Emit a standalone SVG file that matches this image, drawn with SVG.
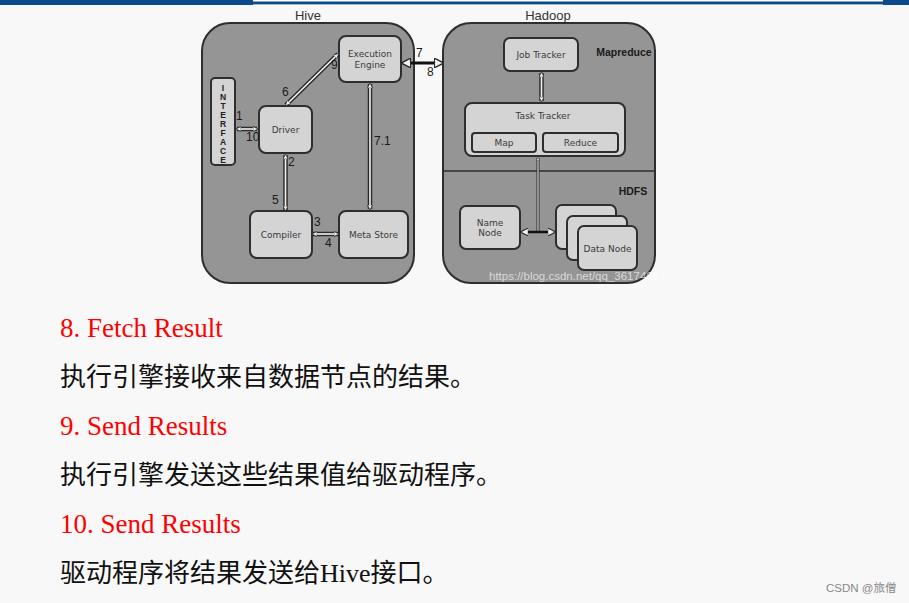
<svg xmlns="http://www.w3.org/2000/svg" width="909" height="603" viewBox="0 0 909 603">
<defs>
<style>
.cont{fill:#959595;stroke:#2e2e2e;stroke-width:2}
.node{fill:#d4d4d4;stroke:#2e2e2e;stroke-width:2}
.lbl{font-family:"DejaVu Sans",Verdana,sans-serif;font-size:9px;fill:#3a3a3a;text-anchor:middle}
.num{font-family:"Liberation Sans",Arial,sans-serif;font-size:12px;fill:#1a1a1a}
.title{font-family:"Liberation Sans",Arial,sans-serif;font-size:13px;fill:#333;text-anchor:middle}
.bold{font-family:"Liberation Sans",Arial,sans-serif;font-size:10.5px;font-weight:bold;fill:#1a1a1a;text-anchor:middle}
.outer{fill:none;stroke:#2a2a2a;stroke-width:4.5}
.inner{fill:none;stroke:#f4f4f4;stroke-width:1.6}
.red{font-family:"Liberation Serif","Times New Roman",serif;font-size:27px;fill:#ff0000}
.cn{font-family:"Liberation Serif","Noto Sans CJK SC",serif;font-size:26px;fill:#111}
</style>
<marker id="ah" viewBox="0 0 10 10" refX="8" refY="5" markerWidth="3.2" markerHeight="3.2" orient="auto-start-reverse">
<path d="M0,0 L10,5 L0,10 z" fill="#f4f4f4" stroke="#2a2a2a" stroke-width="1.5"/>
</marker>
</defs>
<rect width="909" height="603" fill="#f8f8f8"/>
<rect x="0" y="0" width="253" height="5" fill="#0b4a8b"/>
<rect x="253" y="0" width="630" height="1.5" fill="#ffffff"/>
<rect x="253" y="1.5" width="630" height="2.5" fill="#0b4a8b"/>
<rect x="883" y="0" width="26" height="5" fill="#0b4a8b"/>
<rect x="253" y="4" width="630" height="1" fill="#9fb6d0"/>

<g id="hive">
<text class="title" x="308" y="20">Hive</text>
<rect class="cont" x="202" y="23" width="212" height="260" rx="28"/>
</g>
<g id="hadoop">
<text class="title" x="548" y="20">Hadoop</text>
<rect class="cont" x="443" y="23" width="212" height="260" rx="28"/>
<line x1="443" y1="171" x2="655" y2="171" stroke="#2e2e2e" stroke-width="1.5"/>
<text class="bold" x="624" y="56">Mapreduce</text>
<text class="bold" x="633" y="195">HDFS</text>
</g>

<g id="interface">
<rect class="node" x="211" y="78" width="24" height="87" rx="4"/>
<g font-family="Liberation Sans,Arial,sans-serif" font-size="8.5" font-weight="bold" fill="#222" text-anchor="middle">
<text x="223" y="91">I</text><text x="223" y="100">N</text><text x="223" y="109">T</text><text x="223" y="118">E</text><text x="223" y="127">R</text><text x="223" y="136">F</text><text x="223" y="145">A</text><text x="223" y="154">C</text><text x="223" y="163">E</text>
</g>
</g>
<g id="driver">
<rect class="node" x="259" y="106" width="53" height="47" rx="7"/>
<text class="lbl" x="285.5" y="133">Driver</text>
</g>
<g id="execution-engine">
<rect class="node" x="339" y="36" width="62" height="46" rx="7"/>
<text class="lbl" x="370" y="57">Execution</text>
<text class="lbl" x="370" y="68">Engine</text>
</g>
<g id="compiler">
<rect class="node" x="250" y="211" width="62" height="47" rx="7"/>
<text class="lbl" x="281" y="238">Compiler</text>
</g>
<g id="meta-store">
<rect class="node" x="339" y="211" width="69" height="47" rx="7"/>
<text class="lbl" x="373.5" y="238">Meta Store</text>
</g>

<g id="job-tracker">
<rect class="node" x="504" y="38" width="74" height="33" rx="6"/>
<text class="lbl" x="541" y="58" font-size="8.5">Job Tracker</text>
</g>
<g id="task-tracker">
<rect class="node" x="465" y="103" width="160" height="53" rx="7"/>
<text class="lbl" x="543" y="119">Task Tracker</text>
<rect class="node" x="472" y="133" width="64" height="19" rx="3"/>
<text class="lbl" x="504" y="145.5" font-size="8">Map</text>
<rect class="node" x="543" y="133" width="75" height="19" rx="3"/>
<text class="lbl" x="580.5" y="145.5" font-size="8">Reduce</text>
</g>
<g id="name-node">
<rect class="node" x="460" y="206" width="60" height="43" rx="6"/>
<text class="lbl" x="490" y="226" font-size="8">Name</text>
<text class="lbl" x="490" y="236" font-size="8">Node</text>
</g>
<g id="data-nodes">
<rect class="node" x="556" y="205" width="60" height="44" rx="6"/>
<rect class="node" x="567" y="216" width="60" height="44" rx="6"/>
<rect class="node" x="578" y="226" width="59" height="44" rx="6"/>
<text class="lbl" x="607.5" y="252" font-size="8">Data Node</text>
</g>

<g id="connectors">
<path class="outer" d="M237,129 H257"/>
<path class="inner" d="M237,129 H257" marker-start="url(#ah)" marker-end="url(#ah)"/>
<path class="outer" d="M286,105 L338,54"/>
<path class="inner" d="M286,105 L338,54" marker-start="url(#ah)" marker-end="url(#ah)"/>
<path class="outer" d="M285.5,155 V210"/>
<path class="inner" d="M285.5,155 V210" marker-start="url(#ah)" marker-end="url(#ah)"/>
<path class="outer" d="M313,234 H338"/>
<path class="inner" d="M313,234 H338" marker-start="url(#ah)" marker-end="url(#ah)"/>
<path class="outer" d="M370,84 V209"/>
<path class="inner" d="M370,84 V209" marker-start="url(#ah)" marker-end="url(#ah)"/>
<path d="M403,63 H442" stroke="#111" stroke-width="3" fill="none" marker-start="url(#ah)" marker-end="url(#ah)"/>
<path class="outer" d="M541.5,73 V101"/>
<path class="inner" d="M541.5,73 V101" marker-start="url(#ah)" marker-end="url(#ah)"/>
<path d="M538,232 V158" stroke="#2a2a2a" stroke-width="3" fill="none"/>
<path d="M538,232 V158" stroke="#f4f4f4" stroke-width="1" fill="none" marker-end="url(#ah)"/>
<path d="M522,232 H554" stroke="#111" stroke-width="2.5" fill="none" marker-start="url(#ah)" marker-end="url(#ah)"/>
<text class="num" x="236" y="120">1</text>
<text class="num" x="246" y="141">10</text>
<text class="num" x="282" y="96">6</text>
<text class="num" x="331" y="69">9</text>
<text class="num" x="288" y="166">2</text>
<text class="num" x="272" y="204">5</text>
<text class="num" x="314" y="226">3</text>
<text class="num" x="325" y="247">4</text>
<text class="num" x="374" y="145">7.1</text>
<text class="num" x="416" y="57">7</text>
<text class="num" x="427" y="76">8</text>
</g>
<text x="489" y="280" font-family="Liberation Sans,Arial,sans-serif" font-size="11.5" fill="#ffffff" fill-opacity="0.65">https://blog.csdn.net/qq_36174081</text>

<text class="red" x="60" y="337">8. Fetch Result</text>
<text class="cn" x="60" y="386">执行引擎接收来自数据节点的结果。</text>
<text class="red" x="60" y="435">9. Send Results</text>
<text class="cn" x="60" y="484">执行引擎发送这些结果值给驱动程序。</text>
<text class="red" x="60" y="533">10. Send Results</text>
<text class="cn" x="60" y="582">驱动程序将结果发送给Hive接口。</text>
<text x="826" y="592" font-family="Liberation Sans,Noto Sans CJK SC,sans-serif" font-size="11.5" fill="#888">CSDN @旅僧</text>
</svg>
